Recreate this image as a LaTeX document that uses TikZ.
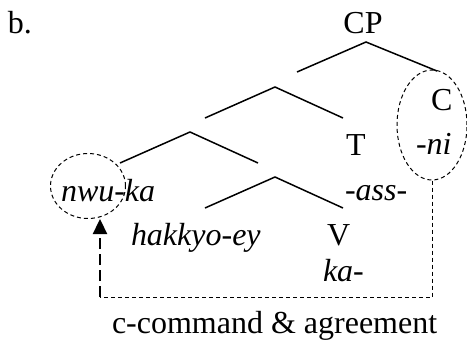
\documentclass[tikz,border=0pt]{standalone}
\usepackage{fontspec}
\setmainfont{Liberation Serif}
\usetikzlibrary{shapes.geometric,arrows.meta}
\tikzset{
  lbl/.style={inner sep=0pt, outer sep=0pt, anchor=base west, font=\fontsize{32}{38}\selectfont},
  ilbl/.style={lbl, font=\fontsize{32}{38}\selectfont\itshape},
  branch/.style={line width=1.5pt},
  ring/.style={draw, line width=1pt, dash pattern=on 4pt off 3pt, ellipse, inner sep=0pt},
  thin dash/.style={line width=1pt, dash pattern=on 4pt off 3pt},
  thick dash/.style={line width=2.3pt, dash pattern=on 11pt off 5pt, -{Triangle[length=15pt,width=14pt]}}
}
\begin{document}
\begin{tikzpicture}[x=1pt,y=-1pt]
\useasboundingbox (0,0) rectangle (467,343);
% labels
\node[lbl] (b) at (8,33) {b.};
\node[lbl, anchor=base] (cp) at (363,33) {CP};
\node[lbl] (c) at (431,110) {C};
\node[ilbl] (ni) at (416,154) {-ni};
\node[lbl] (t) at (346,155) {T};
\node[ilbl] (ass) at (345,200) {-ass-};
\node[ilbl] (nwuka) at (61,201) {nwu-ka};
\node[ilbl] (hak) at (131,245) {hakkyo-ey};
\node[lbl] (v) at (327,245) {V};
\node[ilbl] (ka) at (323,281) {ka-};
\node[lbl] (cap) at (112,333) {c-command \& agreement};
% tree branch points
\coordinate (a1) at (366,42);
\coordinate (a1l) at (297,72);
\coordinate (a1r) at (437,71);
\coordinate (a2) at (275,87);
\coordinate (a2l) at (205,118);
\coordinate (a2r) at (343,118);
\coordinate (a3) at (190,132);
\coordinate (a3l) at (120,163);
\coordinate (a3r) at (258,163);
\coordinate (a4) at (275,177);
\coordinate (a4l) at (205,208);
\coordinate (a4r) at (343,208);
\draw[branch] (a1l) -- (a1) -- (a1r);
\draw[branch] (a2l) -- (a2) -- (a2r);
\draw[branch] (a3l) -- (a3) -- (a3r);
\draw[branch] (a4l) -- (a4) -- (a4r);
% dashed rings
\node[ring, minimum width=70pt, minimum height=110pt] (ellC) at (432,125) {};
\node[ring, minimum width=75pt, minimum height=65pt] (ellN) at (88,186) {};
% agreement connector
\coordinate (foot) at (100,297);
\draw[thin dash] (ellC.south) -- (ellC.south |- foot) -- (foot);
\draw[thick dash] (foot) -- (foot |- ellN.south);
\end{tikzpicture}
\end{document}
